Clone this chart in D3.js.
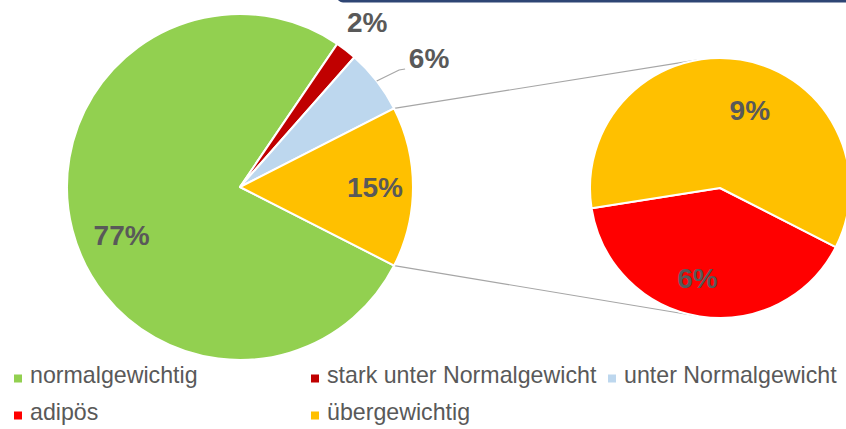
<!DOCTYPE html>
<html>
<head>
<meta charset="utf-8">
<script src="https://cdn.jsdelivr.net/npm/d3@7"></script>
<style>
  html, body { margin: 0; padding: 0; background: #fff; }
  svg { display: block; font-family: "Liberation Sans", Arial, sans-serif; }
</style>
</head>
<body>
<svg width="846" height="429"></svg>
<script>
// main pie: the last slice is the sum of the split-out pie
const mainCategories = ["normalgewichtig", "stark unter Normalgewicht", "unter Normalgewicht", "Übergewicht gesamt"];
const mainValues = [77, 2, 6, 15];

// second pie (split of the last main slice)
const subCategories = ["adipös", "übergewichtig"];
const subValues = [6, 9];

const legendLabels = ["normalgewichtig", "stark unter Normalgewicht", "unter Normalgewicht", "adipös", "übergewichtig"];

const color = d3.scaleOrdinal()
  .domain(["normalgewichtig", "stark unter Normalgewicht", "unter Normalgewicht", "Übergewicht gesamt", "adipös", "übergewichtig"])
  .range(["#92d050", "#c00000", "#bdd7ee", "#ffc000", "#ff0000", "#ffc000"]);

const svg = d3.select("svg");
const labelColor = "#595959";
const lineColor = "#a6a6a6";

// dark frame edge at the top
svg.append("rect")
  .attr("x", 337).attr("y", -10)
  .attr("width", 530).attr("height", 12.5)
  .attr("rx", 6)
  .attr("fill", "#2e4574");

const main = { cx: 240, cy: 187, r: 173 };
const sub = { cx: 720, cy: 188, r: 130 };

const total = d3.sum(mainValues);
const otherAngle = mainValues[3] / total * 2 * Math.PI;
const start = Math.PI / 2 + otherAngle / 2;

const mainData = mainCategories.map((c, i) => ({ cat: c, value: mainValues[i] }));
const subData = subCategories.map((c, i) => ({ cat: c, value: subValues[i] }));

const pie = d3.pie().sort(null).value(d => d.value)
  .startAngle(start).endAngle(start + 2 * Math.PI);

const mainArcs = pie(mainData);
const subArcs = pie(subData);

const arcMain = d3.arc().innerRadius(0).outerRadius(main.r);
const arcSub = d3.arc().innerRadius(0).outerRadius(sub.r);

// point on a circle for a d3 angle (0 = top, clockwise)
const polar = (c, a, rr) => [c.cx + rr * Math.sin(a), c.cy - rr * Math.cos(a)];

// connector lines from the combined slice to tangents of the second pie
function tangent(p, c, upper) {
  const dx = p[0] - c.cx, dy = p[1] - c.cy;
  const d = Math.hypot(dx, dy);
  const base = Math.atan2(dy, dx);
  const off = Math.acos(c.r / d);
  const a = upper ? base + off : base - off;
  return [c.cx + c.r * Math.cos(a), c.cy + c.r * Math.sin(a)];
}
const other = mainArcs[3];
const pTop = polar(main, other.startAngle, main.r);
const pBot = polar(main, other.endAngle, main.r);
const tTop = tangent(pTop, sub, true);
const tBot = tangent(pBot, sub, false);
svg.append("g")
  .selectAll("line")
  .data([[pTop, tTop], [pBot, tBot]])
  .join("line")
  .attr("x1", d => d[0][0]).attr("y1", d => d[0][1])
  .attr("x2", d => d[1][0]).attr("y2", d => d[1][1])
  .attr("stroke", lineColor).attr("stroke-width", 1.2);

svg.append("g")
  .attr("transform", `translate(${main.cx},${main.cy})`)
  .selectAll("path")
  .data(mainArcs)
  .join("path")
  .attr("d", arcMain)
  .attr("fill", d => color(d.data.cat))
  .attr("stroke", "#fff")
  .attr("stroke-width", 2)
  .attr("stroke-linejoin", "round");

svg.append("g")
  .attr("transform", `translate(${sub.cx},${sub.cy})`)
  .selectAll("path")
  .data(subArcs)
  .join("path")
  .attr("d", arcSub)
  .attr("fill", d => color(d.data.cat))
  .attr("stroke", "#fff")
  .attr("stroke-width", 2)
  .attr("stroke-linejoin", "round");

// label placement: radius factor and angle shift (degrees) per slice
const mainLabelPos = [
  { k: 0.74, da: -8 },
  { k: 1.2, da: 0 },
  { k: 1.32, da: 3.7 },
  { k: 0.78, da: 0 }
];
const subLabelPos = [
  { k: 0.715, da: 5 },
  { k: 0.64, da: 12 }
];

function labelPoint(c, d, pos) {
  const mid = (d.startAngle + d.endAngle) / 2 + pos.da * Math.PI / 180;
  return polar(c, mid, c.r * pos.k);
}

// leader for the "unter Normalgewicht" label
const blue = mainArcs[2];
const bStart = polar(main, (blue.startAngle + blue.endAngle) / 2, main.r);
const bLabel = labelPoint(main, blue, mainLabelPos[2]);
svg.append("path")
  .attr("d", d3.line()([bStart, [bLabel[0] - 30, bLabel[1] + 11], [bLabel[0] - 24, bLabel[1] + 10]]))
  .attr("fill", "none")
  .attr("stroke", lineColor)
  .attr("stroke-width", 1.2);

const pctStyle = sel => sel
  .attr("text-anchor", "middle")
  .attr("dominant-baseline", "central")
  .attr("font-size", 28)
  .attr("font-weight", "bold")
  .attr("fill", labelColor)
  .text(d => d.value + "%");

svg.append("g")
  .selectAll("text")
  .data(mainArcs)
  .join("text")
  .attr("x", (d, i) => labelPoint(main, d, mainLabelPos[i])[0])
  .attr("y", (d, i) => labelPoint(main, d, mainLabelPos[i])[1])
  .call(pctStyle);

svg.append("g")
  .selectAll("text")
  .data(subArcs)
  .join("text")
  .attr("x", (d, i) => labelPoint(sub, d, subLabelPos[i])[0])
  .attr("y", (d, i) => labelPoint(sub, d, subLabelPos[i])[1])
  .call(pctStyle);

// legend, three columns
const colW = 297, rowH = 37, lx = 14, ly = 378.5;
const legend = svg.append("g")
  .selectAll("g")
  .data(legendLabels)
  .join("g")
  .attr("transform", (d, i) => `translate(${lx + (i % 3) * colW},${ly + Math.floor(i / 3) * rowH})`);

legend.append("rect")
  .attr("x", 0).attr("y", -4)
  .attr("width", 8).attr("height", 8)
  .attr("fill", d => color(d));

legend.append("text")
  .attr("x", 16).attr("y", 4.5)
  .attr("font-size", 23.2)
  .attr("fill", labelColor)
  .text(d => d);
</script>
</body>
</html>
